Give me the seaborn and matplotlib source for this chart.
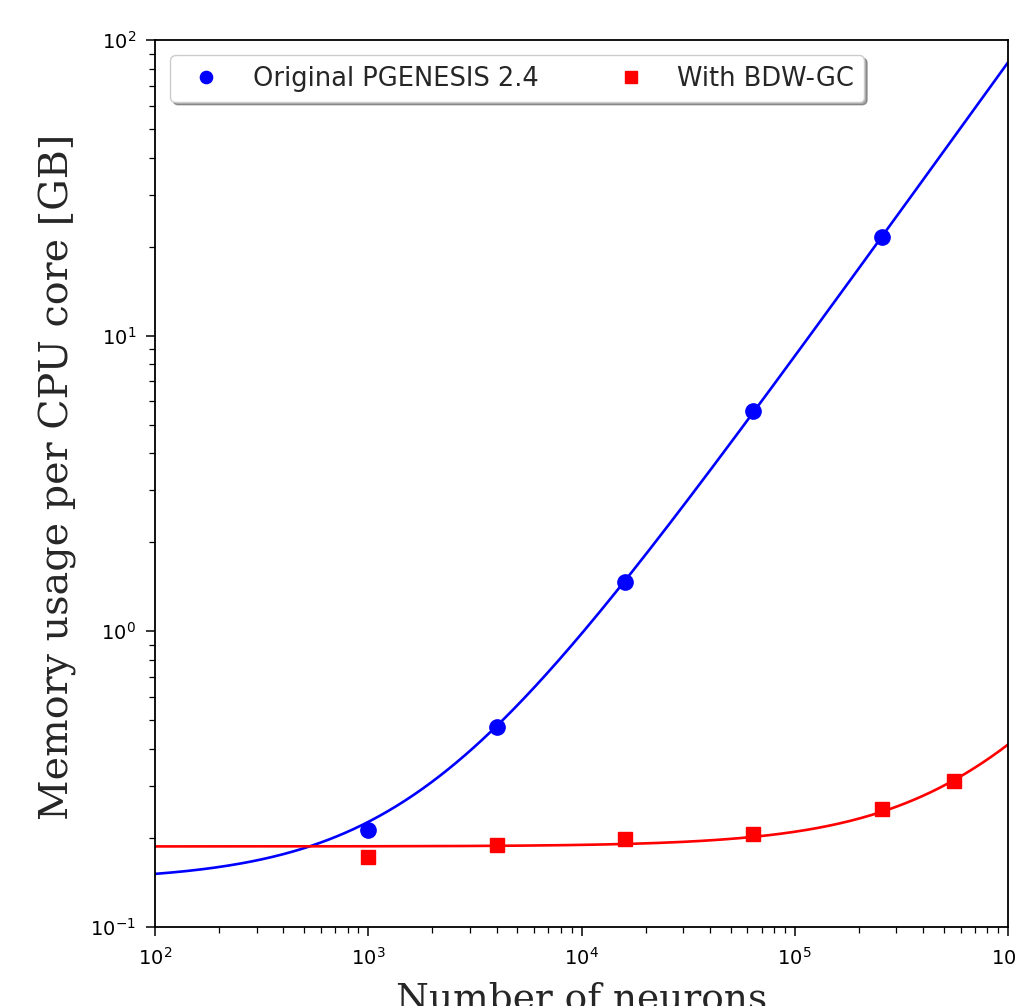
import numpy as np
import pandas as pd
import matplotlib
matplotlib.use("Agg")
import matplotlib.pyplot as plt
import seaborn as sns

# measured memory usage per CPU core [GB]
neurons = [1000, 4000, 16000, 64000, 256000]
mem_original = [0.213, 0.475, 1.47, 5.55, 21.6]

neurons_gc = [1000, 4000, 16000, 64000, 256000, 560000]
mem_gc = [0.172, 0.19, 0.198, 0.206, 0.251, 0.311]

sns.set_style("ticks")
plt.rcParams['font.family'] = ['DejaVu Sans']

fig = plt.figure(figsize=(10.18, 10.06), dpi=100)
ax = fig.add_axes([155 / 1018, 79 / 1006, 853 / 1018, 887 / 1006])

# linear fits, drawn on log-log axes
xfit = np.logspace(2, 6, 400)
fit_orig = np.polyfit(neurons, mem_original, 1)
fit_gc = np.polyfit(neurons_gc, mem_gc, 1)

fits = pd.DataFrame({
    'x': xfit,
    'orig': np.polyval(fit_orig, xfit),
    'gc': np.polyval(fit_gc, xfit),
})

sns.lineplot(data=fits, x='x', y='orig', color='blue', lw=1.9, ax=ax)
sns.lineplot(data=fits, x='x', y='gc', color='red', lw=1.9, ax=ax)

ax.plot(neurons, mem_original, 'o', color='blue', ms=11, label='Original PGENESIS 2.4')
ax.plot(neurons_gc, mem_gc, 's', color='red', ms=10, label='With BDW-GC')

ax.set_xscale('log')
ax.set_yscale('log')
ax.set_xlim(1e2, 1e6)
ax.set_ylim(1e-1, 1e2)

for sp in ax.spines.values():
    sp.set_color('black')
    sp.set_linewidth(1.3)
ax.tick_params(which='both', color='black', labelcolor='black', labelsize=14)
ax.tick_params(which='major', length=6.5, width=1.1)
ax.tick_params(which='minor', length=4, width=0.9)
ax.tick_params(axis='x', which='major', pad=8)
ax.tick_params(axis='y', which='major', pad=7)

ax.set_xlabel('Number of neurons', family='DejaVu Serif', fontsize=27)
ax.set_ylabel('Memory usage per CPU core [GB]', family='DejaVu Serif', fontsize=28.5)
ax.xaxis.set_label_coords(0.5, -0.062)
ax.yaxis.set_label_coords(-0.092, 0.507)

ax.legend(loc='upper left', ncol=2, shadow=True, fancybox=True,
          fontsize=18.5, columnspacing=2.6, handletextpad=0.8,
          borderpad=0.4, borderaxespad=0.6, markerscale=0.8,
          framealpha=1, edgecolor='0.8')

fig.savefig('out.png', dpi=100)
